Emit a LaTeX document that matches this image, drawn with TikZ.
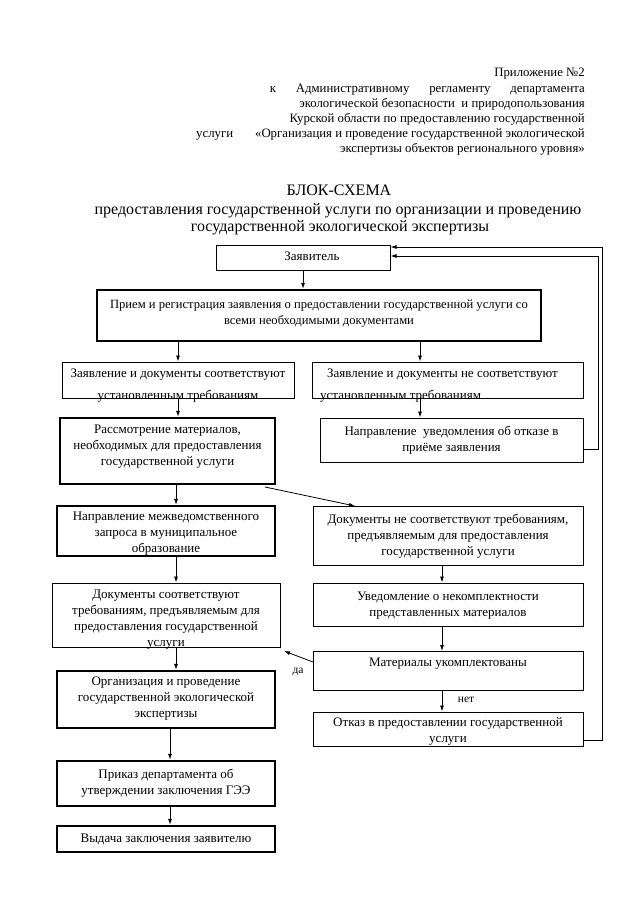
\documentclass[tikz,border=0pt]{standalone}
\usepackage{fontspec}
\setmainfont{Liberation Serif}
\usetikzlibrary{arrows.meta}
\begin{document}
\begin{tikzpicture}[x=1pt,y=-1pt,
  thinbox/.style={draw, line width=1pt, inner sep=0, minimum width=#1},
  thickbox/.style={draw, line width=2.4pt, inner sep=0, minimum width=#1},
  txt/.style={align=center, inner sep=0, font=\fontsize{13}{16}\selectfont},
  arr/.style={-{Latex[length=6pt,width=4pt]}, line width=0.8pt},
  hdr/.style={inner sep=0, anchor=base east, font=\fontsize{12.8}{15}\selectfont},
  ttl/.style={inner sep=0, anchor=base, font=\fontsize{16}{18}\selectfont},
]
\useasboundingbox[fill=white] (0,0) rectangle (640,905);

% header
\node[hdr] (h1) at (585,76) {Приложение №2};
\node[hdr] (h2) at (585,92) {\makebox[315pt][s]{к Административному регламенту департамента}};
\node[hdr] (h3) at (585,107) {экологической безопасности\ \ и природопользования};
\node[hdr] (h4) at (585,122) {Курской области по предоставлению государственной};
\node[hdr, anchor=base west] (h5a) at (196,137) {услуги};
\node[hdr] (h5) at (585,137) {«Организация и проведение государственной экологической};
\node[hdr] (h6) at (585,152) {экспертизы объектов регионального уровня»};

% title
\node[ttl] (t1) at (339,195) {БЛОК-СХЕМА};
\node[ttl] (t2) at (338,214) {предоставления государственной услуги по организации и проведению};
\node[ttl] (t3) at (340,231) {государственной экологической экспертизы};

% boxes
\node[thinbox=174pt, minimum height=25pt] (zayav) at (303,257.5) {};
\node[txt] at (312,256) {Заявитель};

\node[thickbox=444pt, minimum height=51pt] (priem) at (319,315.5) {};
\node[txt, font=\fontsize{12.6}{16}\selectfont] at (319,314) {Прием и регистрация заявления о предоставлении государственной услуги со\\всеми необходимыми документами};

\node[thinbox=232pt, minimum height=36pt] (sootv) at (178,380) {};
\node[txt] at (178,375) {Заявление и документы соответствуют};
\node[txt, anchor=base] at (178,399.5) {установленным требованиям};

\node[thinbox=271pt, minimum height=36pt] (nesootv) at (447.5,380) {};
\node[txt, anchor=west] at (327,375) {Заявление и документы не соответствуют};
\node[txt, anchor=base west] at (320,399.5) {установленным требованиям};

\node[thickbox=215pt, minimum height=66pt] (rassm) at (167.5,451) {};
\node[txt] at (167.5,447) {Рассмотрение материалов,\\необходимых для предоставления\\государственной услуги};

\node[thinbox=263pt, minimum height=44pt] (napr) at (451.5,440) {};
\node[txt] at (451.5,440) {Направление\ \ уведомления об отказе в\\приёме заявления};

\node[thickbox=218pt, minimum height=50pt] (mezh) at (166,531) {};
\node[txt] at (166,534) {Направление межведомственного\\запроса в муниципальное\\образование};

\node[thinbox=270pt, minimum height=59pt] (docne) at (448,535.5) {};
\node[txt] at (448,536) {Документы не соответствуют требованиям,\\предъявляемым для предоставления\\государственной услуги};

\node[thinbox=228pt, minimum height=64pt] (docda) at (166,615) {};
\node[txt] at (166,619.5) {Документы соответствуют\\требованиям, предъявляемым для\\предоставления государственной\\услуги};

\node[thinbox=270pt, minimum height=43pt] (uved) at (448,604.5) {};
\node[txt] at (448,606) {Уведомление о некомплектности\\представленных материалов};

\node[thinbox=270pt, minimum height=39pt] (mater) at (448,671) {};
\node[txt] at (448,664) {Материалы укомплектованы};

\node[thickbox=218pt, minimum height=57pt] (org) at (166,699.5) {};
\node[txt] at (166,699) {Организация и проведение\\государственной экологической\\экспертизы};

\node[thinbox=270pt, minimum height=34pt] (otkaz) at (448,729) {};
\node[txt] at (448,731) {Отказ в предоставлении государственной\\услуги};

\node[thickbox=218pt, minimum height=45pt] (prikaz) at (166,783.5) {};
\node[txt] at (166,783.5) {Приказ департамента об\\утверждении заключения ГЭЭ};

\node[thickbox=218pt, minimum height=26pt] (vyd) at (166,839) {};
\node[txt] at (166,839) {Выдача заключения заявителю};

% arrows
\draw[arr] (zayav.south) -- (zayav.south |- priem.north);
\draw[arr] (priem.south -| 178,0) -- (sootv.north -| 178,0);
\draw[arr] (priem.south -| 420,0) -- (nesootv.north -| 420,0);
\draw[arr] (sootv.south -| 178,0) -- (rassm.north -| 178,0);
\draw[arr] (nesootv.south -| 420,0) -- (napr.north -| 420,0);
\draw[arr] (rassm.south -| 176,0) -- (mezh.north -| 176,0);
\coordinate (d1) at (265,487);
\coordinate (d2) at (355,506);
\draw[arr] (d1) -- (d2);
\draw[arr] (mezh.south -| 176,0) -- (docda.north -| 176,0);
\draw[arr] (docne.south -| 442,0) -- (uved.north -| 442,0);
\draw[arr] (uved.south -| 442,0) -- (mater.north -| 442,0);
\coordinate (m1) at (313,662);
\coordinate (m2) at (284,651);
\draw[arr] (m1) -- (m2);
\node[txt, font=\fontsize{11.5}{13}\selectfont] (da) at (298,672) {да};
\draw[arr] (docda.south -| 176,0) -- (org.north -| 176,0);
\draw[arr] (mater.south -| 442,0) -- (otkaz.north -| 442,0);
\node[txt, font=\fontsize{11.5}{13}\selectfont] (net) at (466,700) {нет};
\draw[arr] (org.south -| 170,0) -- (prikaz.north -| 170,0);
\draw[arr] (prikaz.south -| 170,0) -- (vyd.north -| 170,0);

% feedback lines
\draw[arr] (napr.east |- 0,449) -- (598,449) -- (598,256) -- (zayav.east |- 0,256);
\draw[arr] (otkaz.east |- 0,740) -- (602,740) -- (602,247) -- (zayav.east |- 0,247);
\end{tikzpicture}
\end{document}
